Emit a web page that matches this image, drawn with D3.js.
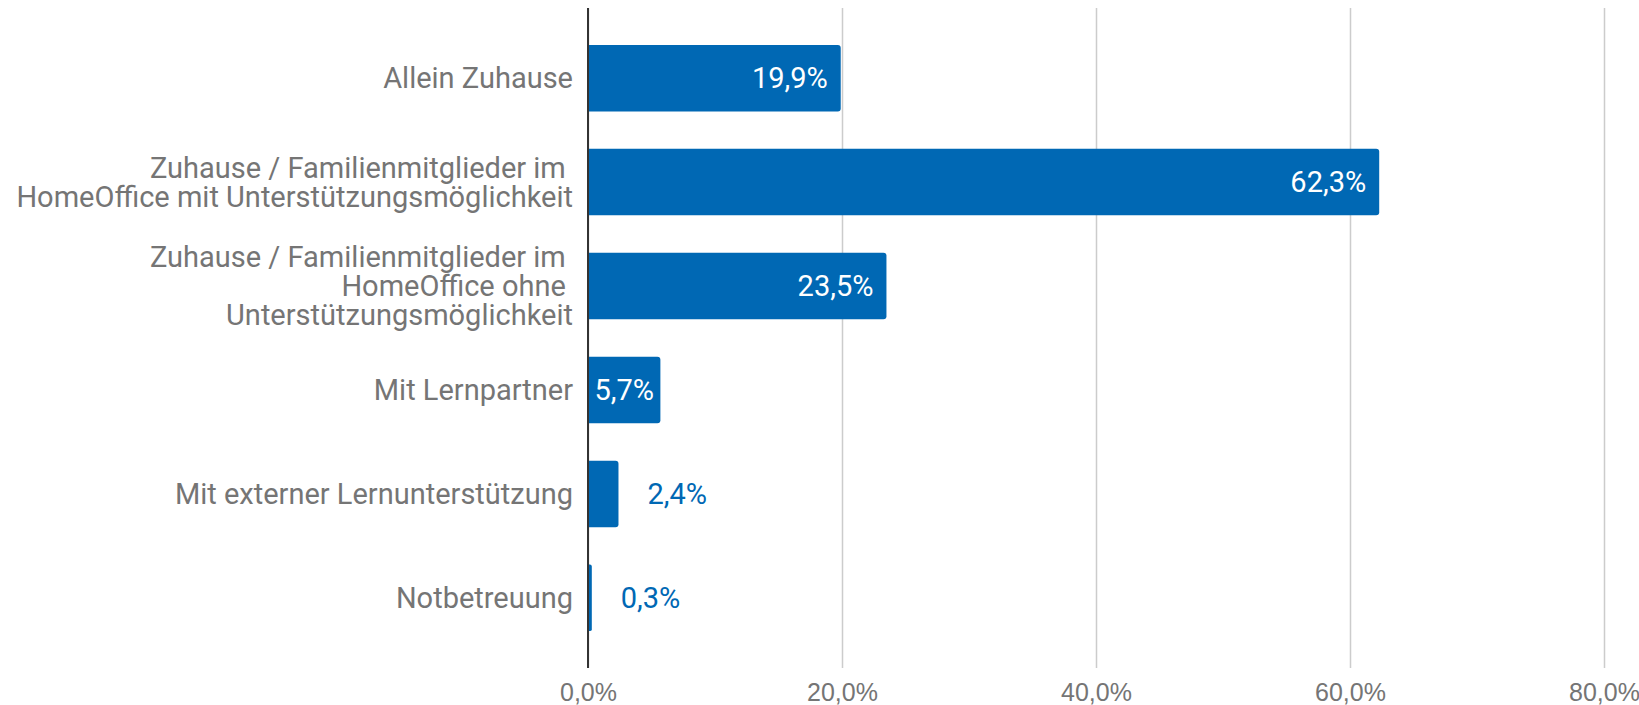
<!DOCTYPE html>
<html>
<head>
<meta charset="utf-8">
<script src="https://cdn.jsdelivr.net/npm/d3@7"></script>
<style>
  body { margin: 0; background: #fff; }
  svg { display: block; font-family: Roboto, "Noto Sans", sans-serif; }
  .cat { white-space: pre; }
</style>
</head>
<body>
<svg></svg>
<script>
// chart data
let categories = [
    "Allein Zuhause",
    "Zuhause / Familienmitglieder im HomeOffice mit Unterstützungsmöglichkeit",
    "Zuhause / Familienmitglieder im HomeOffice ohne Unterstützungsmöglichkeit",
    "Mit Lernpartner",
    "Mit externer Lernunterstützung",
    "Notbetreuung"
]
// how the labels wrap in the original
let categoryLines = [
    ["Allein Zuhause"],
    ["Zuhause / Familienmitglieder im ", "HomeOffice mit Unterstützungsmöglichkeit"],
    ["Zuhause / Familienmitglieder im ", "HomeOffice ohne ", "Unterstützungsmöglichkeit"],
    ["Mit Lernpartner"],
    ["Mit externer Lernunterstützung"],
    ["Notbetreuung"]
]
let values = [19.9, 62.3, 23.5, 5.7, 2.4, 0.3]
let ticks = [0, 20, 40, 60, 80]

let width = 1639
let height = 705
let plotLeft = 588
let plotRight = 1604
let plotTop = 8
let plotBottom = 668

let barColor = '#0068b4'
let gridColor = '#cccccc'
let labelColor = '#757575'

let svg = d3.select('svg')
    .attr('width', width)
    .attr('height', height)

let fmt = (v) => d3.format('.1f')(v).replace('.', ',') + '%'

let xScale = d3.scaleLinear()
    .domain([0, 80])
    .range([plotLeft, plotRight])

let yScale = d3.scaleBand()
    .domain(categories)
    .range([plotTop, plotBottom])
    .paddingInner(0.36)
    .paddingOuter(0.355)

// gridlines + tick labels
let xAxis = d3.axisBottom(xScale)
    .tickValues(ticks)
    .tickSize(-(plotBottom - plotTop))
    .tickFormat((d) => fmt(d))

let gx = svg.append('g')
    .attr('transform', 'translate(0,' + plotBottom + ')')
    .call(xAxis)
gx.select('.domain').remove()
gx.selectAll('line').attr('stroke', gridColor).attr('stroke-width', 1.5)
gx.selectAll('text')
    .attr('y', 15)
    .attr('fill', labelColor)
    .style('font-size', '25px')

// bars, rounded on the right end only
let barPath = (d, i) => {
    let x0 = xScale(0)
    let x1 = xScale(d)
    let y0 = yScale(categories[i])
    let h = yScale.bandwidth()
    let r = Math.min(3, (x1 - x0) / 2)
    return 'M' + x0 + ',' + y0 +
        'H' + (x1 - r) +
        'Q' + x1 + ',' + y0 + ' ' + x1 + ',' + (y0 + r) +
        'V' + (y0 + h - r) +
        'Q' + x1 + ',' + (y0 + h) + ' ' + (x1 - r) + ',' + (y0 + h) +
        'H' + x0 + 'Z'
}

svg.append('g')
    .selectAll('path')
    .data(values)
    .enter()
    .append('path')
    .attr('d', barPath)
    .attr('fill', barColor)

// zero axis line
svg.append('line')
    .attr('x1', xScale(0)).attr('x2', xScale(0))
    .attr('y1', plotTop).attr('y2', plotBottom)
    .attr('stroke', '#333')
    .attr('stroke-width', 2)

// value labels
let valueLabels = svg.append('g')
    .selectAll('text')
    .data(values)
    .enter()
    .append('text')
    .style('font-size', '29px')
    .attr('y', (d, i) => yScale(categories[i]) + yScale.bandwidth() / 2)
    .attr('dy', '0.35em')
    .text((d) => fmt(d))

valueLabels.each(function (d) {
    let t = d3.select(this)
    let tw = this.getComputedTextLength()
    let x0 = xScale(0)
    let x1 = xScale(d)
    let w = x1 - x0
    if (w >= tw + 26) {
        t.attr('x', x1 - 13).attr('text-anchor', 'end').attr('fill', '#fff')
    } else if (w >= tw + 8) {
        t.attr('x', (x0 + x1) / 2).attr('text-anchor', 'middle').attr('fill', '#fff')
    } else {
        t.attr('x', x1 + 29).attr('text-anchor', 'start').attr('fill', barColor)
    }
})

// category labels
let catSize = 29
let lineHeight = 29
let cats = svg.append('g')
    .selectAll('text')
    .data(categories)
    .enter()
    .append('text')
    .attr('class', 'cat')
    .attr('text-anchor', 'end')
    .attr('fill', labelColor)
    .style('font-size', catSize + 'px')
    .attr('y', (d) => yScale(d) + yScale.bandwidth() / 2)

cats.each(function (d, i) {
    let lines = categoryLines[i]
    let t = d3.select(this)
    let offset = -(lines.length - 1) / 2 * lineHeight
    lines.forEach((line, k) => {
        t.append('tspan')
            .attr('x', plotLeft - 15)
            .attr('dy', k === 0 ? (offset / catSize + 0.35) + 'em' : lineHeight + 'px')
            .text(line)
    })
})
</script>
</body>
</html>
